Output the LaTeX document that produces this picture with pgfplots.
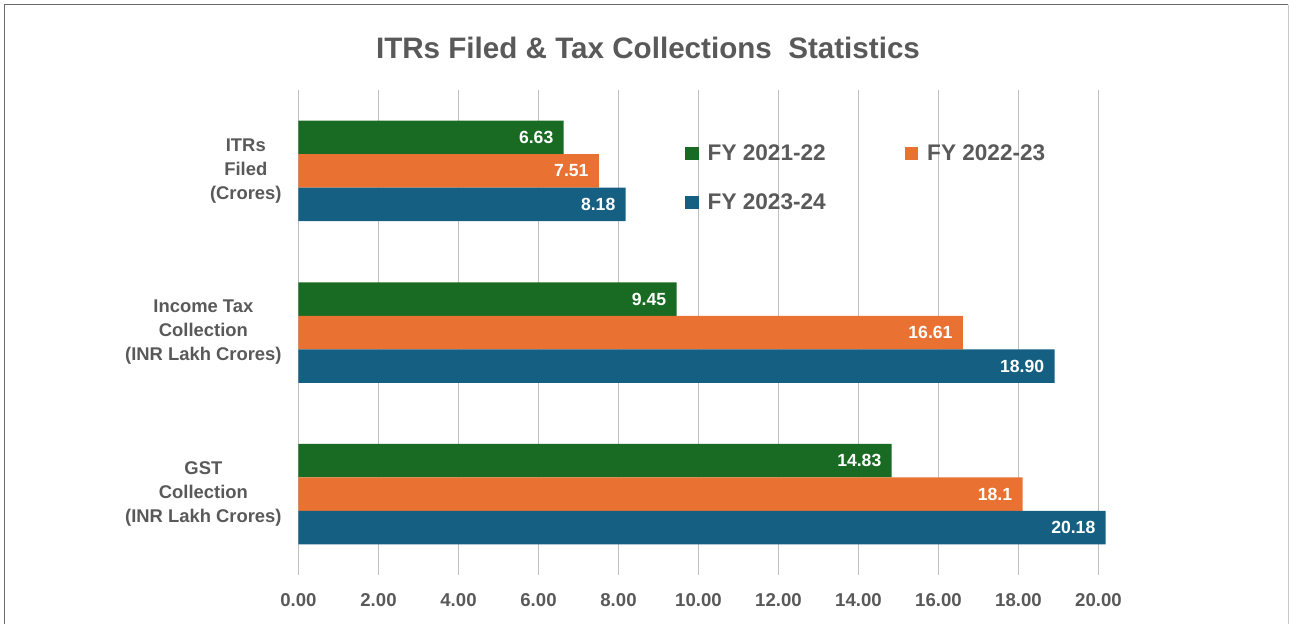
\documentclass[border=0pt]{standalone}
\usepackage{fontspec}
\setmainfont{Liberation Sans}
\usepackage{pgfplots}
\pgfplotsset{compat=1.18}
\usepackage{pgfplotstable}
\definecolor{cgreen}{HTML}{196B24}
\definecolor{corange}{HTML}{E97132}
\definecolor{cblue}{HTML}{156082}
\definecolor{ctext}{HTML}{595959}
\definecolor{cgrid}{HTML}{C0C0C0}

% y: 0 = GST, 1 = Income Tax, 2 = ITRs
\pgfplotstableread{
y x label
0 14.83 14.83
1 9.45 9.45
2 6.63 6.63
}\fyone
\pgfplotstableread{
y x label
0 18.1 18.1
1 16.61 16.61
2 7.51 7.51
}\fytwo
\pgfplotstableread{
y x label
0 20.18 20.18
1 18.90 18.90
2 8.18 8.18
}\fythree

\begin{document}
\begin{tikzpicture}
\useasboundingbox (-149.25pt,-24pt) rectangle (495.75pt,287.5pt);
% frame
\draw[line width=0.8pt, color=black!58] (-147pt,-30pt) -- (-147pt,285.25pt) -- (494.75pt,285.25pt);
\draw[line width=0.5pt, color=black!22] (494.75pt,285.25pt) -- (494.75pt,-30pt);
\begin{axis}[
  at={(0pt,0pt)}, anchor=south west,
  scale only axis, width=400pt, height=242.5pt,
  xbar, bar width=16.75pt,
  xmin=0, xmax=20, ymin=-0.5, ymax=2.5,
  clip=false,
  axis line style={draw=none},
  major tick length=0pt,
  xmajorgrids, grid style={color=cgrid, line width=0.75pt},
  xtick={0,2,...,20},
  xticklabels={0.00,2.00,4.00,6.00,8.00,10.00,12.00,14.00,16.00,18.00,20.00},
  xticklabel style={font=\bfseries\fontsize{9.3}{11}\selectfont, text=ctext, inner sep=0pt, anchor=north, yshift=-9pt},
  ytick={0,1,2},
  yticklabels={{GST\\Collection\\(INR Lakh Crores)},{Income Tax\\Collection\\(INR Lakh Crores)},{ITRs\\Filed\\(Crores)}},
  yticklabel style={font=\bfseries\fontsize{9.2}{12}\selectfont, text=ctext, align=center, inner sep=0pt, anchor=east, xshift=-8.25pt},
  point meta=explicit symbolic,
  nodes near coords,
  every node near coord/.append style={font=\bfseries\fontsize{8.8}{10}\selectfont, text=white, anchor=east, inner sep=0pt, xshift=-5pt},
  legend columns=2,
  legend cell align=left,
  legend image code/.code={\fill[#1] (0pt,-2.9pt) rectangle (6.7pt,3.8pt);},
  legend style={draw=none, fill=none, at={(0.483,0.887)}, anchor=north west,
    font=\bfseries\fontsize{11.3}{13}\selectfont, text=ctext,
    inner sep=0pt, row sep=15pt,
    nodes={inner sep=0pt},
    /tikz/every odd column/.append style={column sep=4.5pt},
    /tikz/every even column/.append style={column sep=39.5pt}},
]
\addplot[xbar, fill=cgreen, draw=none, bar shift=16.75pt] table[x=x, y=y, meta=label] {\fyone};
\addlegendentry{FY 2021-22}
\addplot[xbar, fill=corange, draw=none, bar shift=0pt] table[x=x, y=y, meta=label] {\fytwo};
\addlegendentry{FY 2022-23}
\addplot[xbar, fill=cblue, draw=none, bar shift=-16.75pt] table[x=x, y=y, meta=label] {\fythree};
\addlegendentry{FY 2023-24}
\end{axis}
\node[font=\bfseries\fontsize{14.8}{17}\selectfont, text=ctext, anchor=center] at (174.75pt,263.5pt) {ITRs Filed \& Tax Collections\ \ Statistics};
\end{tikzpicture}
\end{document}
